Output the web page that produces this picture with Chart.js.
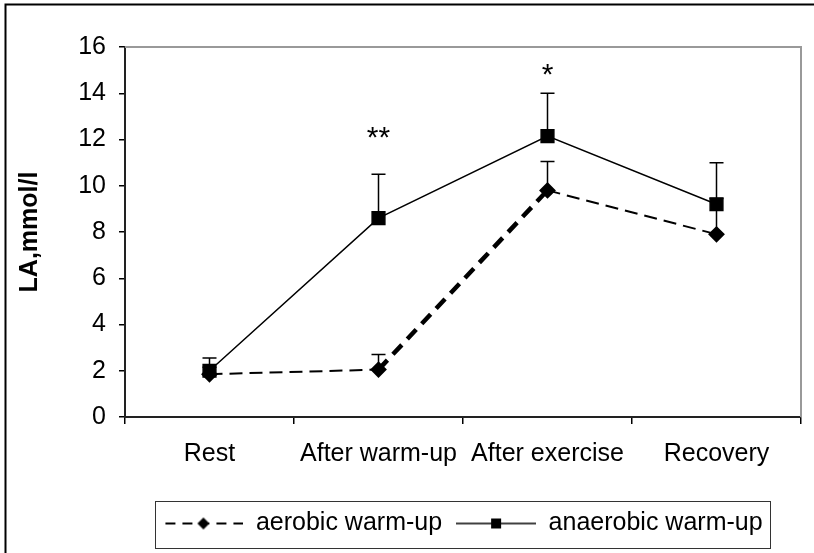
<!DOCTYPE html>
<html>
<head>
<meta charset="utf-8">
<script src="https://cdn.jsdelivr.net/npm/chart.js@4.4.1/dist/chart.umd.min.js"></script>
<style>
  html, body { margin: 0; padding: 0; background: #fff; }
  #wrap { width: 814px; height: 553px; }
</style>
</head>
<body>
<div id="wrap"><canvas id="chart" width="814" height="553"></canvas></div>
<script>
// data
var categories = ['Rest', 'After warm-up', 'After exercise', 'Recovery'];
var aerobic = [1.85, 2.05, 9.8, 7.9];
var aerobicErr = [0.3, 0.65, 1.25, 1.55];
var anaerobic = [2.0, 8.6, 12.15, 9.2];
var anaerobicErr = [0.55, 1.9, 1.85, 1.8];
var stars = ['', '**', '*', ''];
var starAt = [null, 11.66, 14.38, null];
var yTicks = [0, 2, 4, 6, 8, 10, 12, 14, 16];

var FONT = "'Liberation Sans', Arial, sans-serif";

// small line+marker images for the legend
function legendSymbol(dashed) {
    var c = document.createElement('canvas');
    c.width = 80; c.height = 16;
    var g = c.getContext('2d');
    g.strokeStyle = '#000';
    g.lineWidth = dashed ? 2 : 1.5;
    if (dashed) g.setLineDash([10, 7]);
    g.beginPath(); g.moveTo(dashed ? 2 : 0, 8); g.lineTo(80, 8); g.stroke();
    g.setLineDash([]);
    g.fillStyle = '#000';
    g.beginPath();
    if (dashed) {
        g.moveTo(40, 2); g.lineTo(46, 8); g.lineTo(40, 14); g.lineTo(34, 8);
    } else {
        g.rect(35, 3, 10, 10);
    }
    g.closePath(); g.fill();
    return c;
}
var legendIcons = [legendSymbol(true), legendSymbol(false)];

// error bars, asterisks, borders
var extras = {
    id: 'extras',
    afterDatasetsDraw: function (chart) {
        var ctx = chart.ctx, x = chart.scales.x, y = chart.scales.y;
        var errs = [aerobicErr, anaerobicErr];
        ctx.save();
        ctx.strokeStyle = '#000';
        ctx.lineWidth = 1.5;
        chart.data.datasets.forEach(function (ds, di) {
            ds.data.forEach(function (v, i) {
                var px = x.getPixelForValue(i);
                var y0 = y.getPixelForValue(v);
                var y1 = y.getPixelForValue(v + errs[di][i]);
                ctx.beginPath();
                ctx.moveTo(px, y0); ctx.lineTo(px, y1);
                ctx.moveTo(px - 7, y1); ctx.lineTo(px + 7, y1);
                ctx.stroke();
            });
        });
        ctx.fillStyle = '#000';
        ctx.font = '30px ' + FONT;
        ctx.textAlign = 'center';
        ctx.textBaseline = 'alphabetic';
        stars.forEach(function (s, i) {
            if (s) ctx.fillText(s, x.getPixelForValue(i), y.getPixelForValue(starAt[i]));
        });
        ctx.restore();
    },
    afterDraw: function (chart) {
        var ctx = chart.ctx, a = chart.chartArea;
        ctx.save();
        // plot frame top/right (grey)
        ctx.strokeStyle = '#999';
        ctx.lineWidth = 2;
        ctx.beginPath();
        ctx.moveTo(a.left, a.top); ctx.lineTo(a.right, a.top); ctx.lineTo(a.right, a.bottom);
        ctx.stroke();
        // outer frame
        ctx.strokeStyle = '#000';
        ctx.lineWidth = 2;
        ctx.beginPath();
        ctx.moveTo(5.5, 553); ctx.lineTo(5.5, 4.5); ctx.lineTo(814, 4.5);
        ctx.stroke();
        // legend box
        var hb = chart.legend.legendHitBoxes;
        if (hb && hb.length) {
            var l = hb[0].left - 8, r = hb[hb.length - 1].left + hb[hb.length - 1].width + 8;
            var cy = hb[0].top + hb[0].height / 2;
            ctx.strokeStyle = '#333';
            ctx.lineWidth = 1;
            ctx.strokeRect(Math.round(l) + 0.5, Math.round(cy - 23) + 0.5, Math.round(r - l), 47);
        }
        ctx.restore();
    }
};

new Chart(document.getElementById('chart'), {
    type: 'line',
    data: {
        labels: categories,
        datasets: [{
            label: 'aerobic warm-up',
            data: aerobic,
            borderColor: '#000',
            borderWidth: 2,
            borderDash: [13, 7],
            pointStyle: 'rectRot',
            pointRadius: 7,
            pointBackgroundColor: '#000',
            pointBorderColor: '#000',
            segment: {
                borderWidth: function (c) { return c.p0DataIndex === 1 ? 4.5 : 2; },
                borderDash: function (c) { return c.p0DataIndex === 1 ? [13, 8] : [13, 7]; }
            }
        }, {
            label: 'anaerobic warm-up',
            data: anaerobic,
            borderColor: '#000',
            borderWidth: 1.5,
            pointStyle: 'rect',
            pointRadius: 9,
            pointBackgroundColor: '#000',
            pointBorderColor: '#000'
        }]
    },
    options: {
        responsive: false,
        animation: false,
        events: [],
        layout: { padding: { top: 47, right: 13, left: 0, bottom: 7 } },
        scales: {
            x: {
                offset: true,
                afterFit: function (s) { s.height += 13; },
                grid: { display: true, offset: true, drawOnChartArea: false, tickLength: 7, color: '#000', lineWidth: 1.5 },
                border: { display: true, color: '#222', width: 2 },
                ticks: { color: '#000', font: { family: FONT, size: 25 }, padding: 15, maxRotation: 0, autoSkip: false }
            },
            y: {
                min: 0, max: 16,
                afterFit: function (s) { s.width = 125; },
                afterBuildTicks: function (s) { s.ticks = yTicks.map(function (v) { return { value: v }; }); },
                grid: { display: true, drawOnChartArea: false, tickLength: 6, color: '#000', lineWidth: 1.5 },
                border: { display: true, color: '#222', width: 2 },
                ticks: { color: '#000', font: { family: FONT, size: 25 }, padding: 13 },
                title: { display: true, text: 'LA,mmol/l', color: '#000', padding: { top: 15, bottom: 0 },
                         font: { family: FONT, size: 25, weight: 'bold' } }
            }
        },
        plugins: {
            legend: {
                position: 'bottom',
                fullSize: false,
                labels: {
                    color: '#000',
                    font: { family: FONT, size: 25 },
                    usePointStyle: true,
                    pointStyleWidth: 80,
                    padding: 14,
                    generateLabels: function (chart) {
                        return chart.data.datasets.map(function (ds, i) {
                            return { text: ds.label, pointStyle: legendIcons[i], datasetIndex: i,
                                     fillStyle: '#000', strokeStyle: '#000', lineWidth: 0, fontColor: '#000' };
                        });
                    }
                }
            },
            tooltip: { enabled: false }
        }
    },
    plugins: [extras]
});
</script>
</body>
</html>
